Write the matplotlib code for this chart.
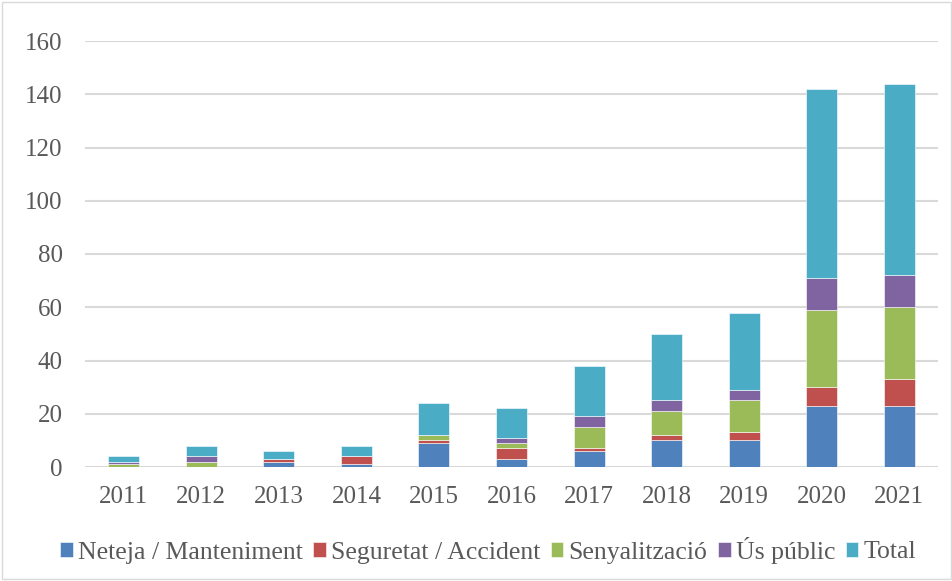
import numpy as np
import matplotlib.pyplot as plt

# dades llegides del gràfic
anys = ['2011', '2012', '2013', '2014', '2015', '2016', '2017', '2018', '2019', '2020', '2021']
neteja = [0, 0, 2, 1, 9, 3, 6, 10, 10, 23, 23]
seguretat = [0, 0, 1, 3, 1, 4, 1, 2, 3, 7, 10]
senyalitzacio = [1, 2, 0, 0, 2, 2, 8, 9, 12, 29, 27]
us_public = [1, 2, 0, 0, 0, 2, 4, 4, 4, 12, 12]
total = [2, 4, 3, 4, 12, 11, 19, 25, 29, 71, 72]

series = [
    ('Neteja / Manteniment', neteja, '#4F81BD'),
    ('Seguretat / Accident', seguretat, '#C0504D'),
    ('Senyalització', senyalitzacio, '#9BBB59'),
    ('Ús públic', us_public, '#8064A2'),
    ('Total', total, '#4BACC6'),
]

plt.rcParams['font.family'] = ['Liberation Serif', 'DejaVu Serif']

fig = plt.figure(figsize=(9.53, 5.81), dpi=100)
ax = fig.add_axes([85/953, 1 - 467/581, 853/953, 426/581])

x = np.arange(len(anys))
bottom = np.zeros(len(anys))
for nom, vals, col in series:
    ax.bar(x, vals, bottom=bottom, width=0.4, color=col, label=nom,
           edgecolor='white', linewidth=0.4, zorder=3)
    bottom += np.array(vals)

ax.set_ylim(0, 160)
ax.set_xlim(-0.5, len(anys) - 0.5)
ax.set_yticks(range(0, 161, 20))
ax.set_xticks(x)
ax.set_xticklabels(anys)
ax.grid(axis='y', color='#d9d9d9', linewidth=1.5, zorder=0)
for s in ax.spines.values():
    s.set_visible(False)
ax.tick_params(length=0, labelsize=18, colors='#595959')
ax.tick_params(axis='x', pad=14)
ax.tick_params(axis='y', pad=16)

leg = fig.legend(loc='center', bbox_to_anchor=(488/953, 1 - 550/581), ncol=5,
                 frameon=False, fontsize=18.5, handlelength=0.5, handleheight=0.5,
                 handletextpad=0.2, columnspacing=0.4)
for t in leg.get_texts():
    t.set_color('#595959')

# marc exterior
fig.patches.append(plt.Rectangle((0.002, 0.003), 0.996, 0.994, transform=fig.transFigure,
                                 fill=False, edgecolor='#d9d9d9', linewidth=1))

fig.savefig('out.png', dpi=100)
